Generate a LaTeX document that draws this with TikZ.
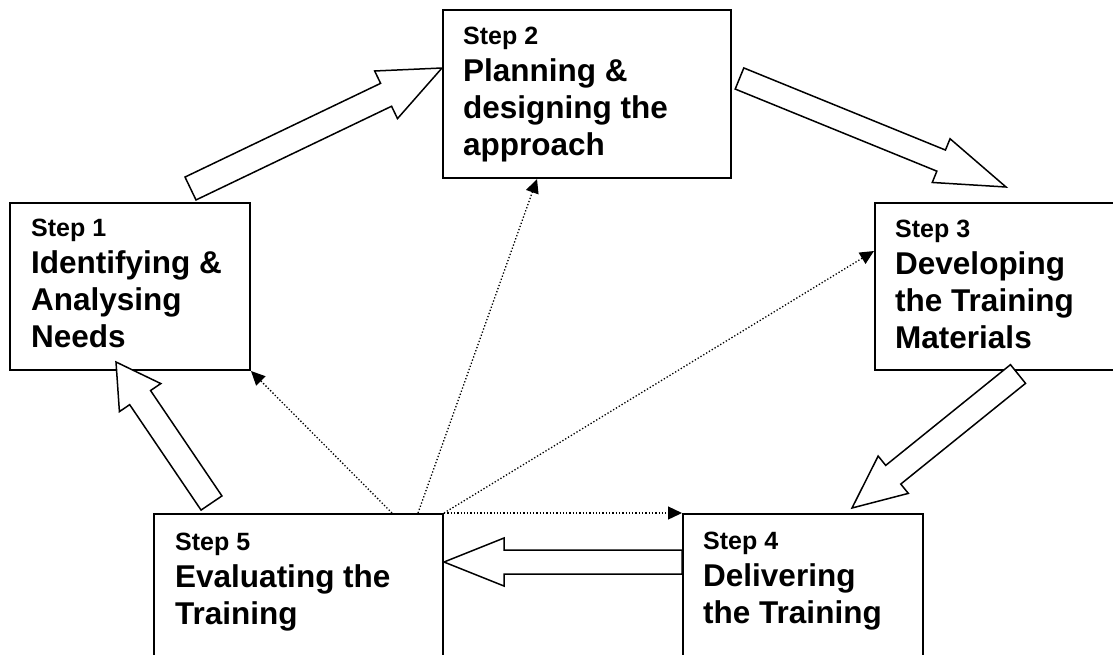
\documentclass[tikz,border=0pt]{standalone}
\usepackage{fontspec}
\setmainfont{Liberation Sans}
\usetikzlibrary{calc,arrows.meta}
\newcommand\stepf{\fontsize{25}{37}\selectfont\bfseries}
\newcommand\bigf{\fontsize{31.5}{37}\selectfont\bfseries}
\newcommand\boxtext[1]{\vtop{\baselineskip=37pt\lineskiplimit=-100pt #1}}
\newcommand\blockarrow[5]{%
  \path let \p1=(#1), \p2=(#2), \n1={veclen(\x2-\x1,\y2-\y1)-#5} in
    coordinate (baneck) at ($(#1)!\n1!(#2)$);
  \draw[blockarr] ($(#1)!#3!90:(#2)$) -- ($(baneck)!#3!90:(#2)$) -- ($(baneck)!#4!90:(#2)$)
    -- (#2) -- ($(baneck)!#4!-90:(#2)$) -- ($(baneck)!#3!-90:(#2)$) -- ($(#1)!#3!-90:(#2)$) -- cycle;
}
\tikzset{
  stepbox/.style={draw, line width=2pt, inner sep=0pt, anchor=north west},
  txt/.style={inner sep=0pt, anchor=base west, align=left},
  blockarr/.style={draw, fill=white, line width=1.5pt, line join=miter},
  dotarr/.style={line width=1.3pt, dash pattern=on 1.3pt off 2pt, -{Triangle[length=14pt,width=13pt]}}
}
\begin{document}
\begin{tikzpicture}[x=1pt,y=-1pt]
\useasboundingbox (0,0) rectangle (1113,654);
\clip (0,0) rectangle (1113,654);
% boxes
\node[stepbox, minimum width=240pt, minimum height=167pt] (s1) at (9,202) {};
\node[stepbox, minimum width=288pt, minimum height=168pt] (s2) at (442,9) {};
\node[stepbox, minimum width=260pt, minimum height=167pt] (s3) at (874,202) {};
\node[stepbox, minimum width=240pt, minimum height=170pt] (s4) at (682,513) {};
\node[stepbox, minimum width=289pt, minimum height=170pt] (s5) at (153,513) {};
% texts
\node[txt] (t1) at ($(s1.north west)+(22,34)$) {\boxtext{\hbox{\stepf Step 1}\hbox{\bigf Identifying \&}\hbox{\bigf Analysing}\hbox{\bigf Needs}}};
\node[txt] (t2) at ($(s2.north west)+(21,35)$) {\boxtext{\hbox{\stepf Step 2}\hbox{\bigf Planning \&}\hbox{\bigf designing the}\hbox{\bigf approach}}};
\node[txt] (t3) at ($(s3.north west)+(21,35)$) {\boxtext{\hbox{\stepf Step 3}\hbox{\bigf Developing}\hbox{\bigf the Training}\hbox{\bigf Materials}}};
\node[txt] (t4) at ($(s4.north west)+(21,36)$) {\boxtext{\hbox{\stepf Step 4}\hbox{\bigf Delivering}\hbox{\bigf the Training}}};
\node[txt] (t5) at ($(s5.north west)+(22,37)$) {\boxtext{\hbox{\stepf Step 5}\hbox{\bigf Evaluating the}\hbox{\bigf Training}}};
% block arrow end points
\coordinate (a12t) at (190.5,188.5);
\coordinate (a12h) at ($(s2.north west)+(0,59)$);
\coordinate (a23t) at (739.5,78.5);
\coordinate (a23h) at (1006,187);
\coordinate (a34t) at (1018,374);
\coordinate (a34h) at (852,508);
\coordinate (a51t) at (211.5,503);
\coordinate (a51h) at (116,362);
\coordinate (a45t) at ($(s4.north west)+(0,49)$);
\coordinate (a45h) at ($(s5.north east)+(0,49)$);
\blockarrow{a12t}{a12h}{12.7pt}{26.4pt}{62pt}
\blockarrow{a23t}{a23h}{11.4pt}{23.6pt}{70pt}
\blockarrow{a34t}{a34h}{12pt}{24pt}{53pt}
\blockarrow{a51t}{a51h}{12.6pt}{25pt}{43pt}
\blockarrow{a45t}{a45h}{12pt}{24pt}{60pt}
% dotted arrows
\coordinate (d1) at ($(s5.north west)+(239,0)$);
\coordinate (d2) at ($(s5.north west)+(265,0)$);
\draw[dotarr] (d1) -- (s1.south east);
\draw[dotarr] (d2) -- ($(s2.south west)+(95,0)$);
\draw[dotarr] (s5.north east) -- ($(s3.north west)+(0,49)$);
\draw[dotarr] (s5.north east) -- (s4.north west);
\end{tikzpicture}
\end{document}
